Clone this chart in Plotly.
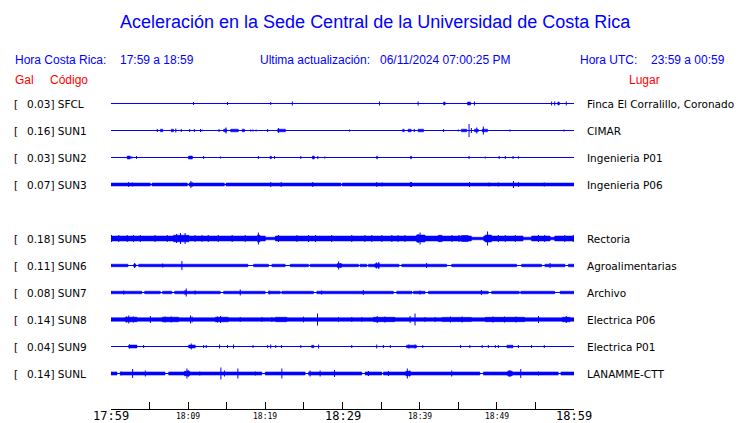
import plotly.graph_objects as go

# ---------------- data ----------------
CODES = ["SFCL", "SUN1", "SUN2", "SUN3", "SUN5", "SUN6", "SUN7", "SUN8", "SUN9", "SUNL"]
GAL = [0.03, 0.16, 0.03, 0.07, 0.18, 0.11, 0.08, 0.14, 0.04, 0.14]
LUGAR = ["Finca El Corralillo, Coronado", "CIMAR", "Ingenieria P01", "Ingenieria P06",
         "Rectoria", "Agroalimentarias", "Archivo", "Electrica P06", "Electrica P01", "LANAMME-CTT"]
SLOT = [0, 1, 2, 3, 5, 6, 7, 8, 9, 10]          # row slot (SUN4 absent)
BASE_AMP = [0.5, 0.5, 0.5, 1.5, 2.5, 1.3, 1.3, 1.8, 0.5, 1.6]   # background noise half-amplitude

# minutes after 17:59 ; time axis ticks
TICK_MIN = [0, 5, 10, 15, 20, 25, 30, 35, 40, 45, 50, 55, 60]
TICK_LABELS = ["17:59", "", "18:09", "", "18:19", "", "18:29", "", "18:39", "", "18:49", "", "18:59"]
MAJOR_LABELS = ["17:59", "18:29", "18:59"]

# quiet stretches (t0, t1, half-amp), bursts (t0, t1, half-amp), spikes (t, half-amp)
quiet_SFCL = []
bursts_SFCL = [(43.1, 43.3, 1.5), (46.2, 46.6, 1.5), (57.9, 58.1, 1.5)]
spikes_SFCL = [(10.7, 1.5), (15.1, 1.5), (20.7, 1.5), (23.5, 2), (34.8, 2), (39.8, 2), (47.1, 2),
               (57.1, 2), (57.5, 2), (59.0, 2)]

quiet_SUN1 = []
bursts_SUN1 = [(6.4, 6.7, 1.3), (7.8, 8.1, 1.3), (14.6, 15.0, 1.3), (15.5, 16.5, 1.3), (17.0, 17.3, 1.3),
               (21.6, 22.6, 1.3), (37.8, 38.0, 1.2), (38.5, 38.9, 1.3), (39.8, 40.5, 1.3),
               (45.4, 46.1, 1.3), (47.1, 47.6, 1.3), (48.1, 48.8, 1.3)]
spikes_SUN1 = [(6.0, 1.5), (8.4, 2), (9.1, 1.5), (10.2, 1.5), (10.8, 1.5), (11.6, 1.5), (11.8, 1),
               (14.0, 1.5), (14.9, 3), (18.1, 1), (18.4, 1), (18.8, 1), (20.3, 1.5), (21.7, 2.5),
               (30.9, 1), (39.3, 1.5), (43.1, 1.5), (45.0, 1), (46.4, 6.5), (46.7, 2.5), (47.4, 3),
               (48.25, 4), (51.7, 1), (58.7, 1)]

quiet_SUN2 = []
bursts_SUN2 = [(2.1, 2.5, 1.5), (10.05, 10.55, 1.5), (20.6, 20.8, 1.2), (26.1, 26.35, 1.5),
               (34.4, 34.55, 1.3), (38.8, 38.95, 1.3)]
spikes_SUN2 = [(2.7, 1.2), (3.3, 1.5), (12.0, 1.5), (14.2, 1), (19.1, 1.5), (21.2, 1.5), (24.6, 1.5),
               (26.8, 1.5), (27.7, 1), (46.4, 1.5), (48.5, 1), (50.3, 1.5), (51.1, 1.5), (52.1, 1.5),
               (52.8, 1.2)]

quiet_SUN3 = [(5.1, 5.3, 0.5), (9.9, 10.1, 0.5), (14.7, 14.9, 0.5), (29.8, 29.95, 0.5)]
bursts_SUN3 = []
spikes_SUN3 = [(2.3, 2.5), (2.8, 2), (10.35, 3.5), (10.5, 2.5), (20.7, 2.5), (22.05, 2.5), (26.15, 2.5),
               (34.45, 2.5), (35.15, 2), (38.8, 2.5), (38.95, 2.5), (46.45, 2.5), (49.0, 2), (50.2, 2),
               (52.15, 3.5), (52.8, 2.5), (56.15, 2)]

quiet_SUN5 = [(20.0, 21.3, 1.3), (46.7, 48.3, 1.3), (53.4, 54.5, 1.3), (56.9, 57.5, 1.3)]
bursts_SUN5 = [(8.1, 10.1, 3.3), (19.0, 19.3, 3.5), (39.6, 40.7, 3.5), (42.4, 42.9, 3.2), (45.4, 46.3, 3),
               (48.5, 49.3, 3.5)]
spikes_SUN5 = [(0.05, 3.5), (9.0, 5.5), (9.6, 5.5), (8.5, 4.5), (19.1, 6), (40.05, 6), (39.8, 4.5),
               (48.8, 7), (1.0, 3.5), (2.1, 3.5),
               (2.9, 3.5), (3.8, 3.5), (5.7, 3.5), (7.3, 3.5), (10.9, 3.5), (11.8, 3.5), (12.6, 3.5),
               (13.9, 3.5), (15.7, 3.5), (17.4, 3.5), (21.7, 3.5), (24.1, 3.5), (25.6, 3.5), (26.5, 3.5),
               (28.6, 3.5), (31.2, 3.5), (32.9, 3.5), (33.8, 3.5), (35.1, 3.5), (36.4, 3.5), (37.2, 3.5),
               (38.1, 3.5), (44.2, 3.5), (45.1, 3.5), (50.2, 3.5), (51.1, 3.5), (52.4, 3.5), (55.4, 3.5),
               (56.2, 3.5), (58.8, 3.5), (59.9, 3.5)]

quiet_SUN6 = [(2.2, 2.93, 0.5), (3.24, 3.58, 0.5), (17.74, 18.47, 0.5), (20.41, 20.85, 0.5),
              (22.57, 23.22, 0.5), (25.59, 25.81, 0.5), (32.07, 32.28, 0.5), (33.15, 33.36, 0.5),
              (37.33, 37.68, 0.5), (43.5, 44.15, 0.5), (52.57, 53.21, 0.5), (55.8, 56.23, 0.5),
              (58.83, 59.26, 0.5)]
bursts_SUN6 = [(29.3, 29.9, 1.8), (34.2, 34.8, 1.8)]
spikes_SUN6 = [(3.06, 2.5), (6.7, 2), (9.19, 4.5), (29.5, 4), (29.7, 2.5), (34.4, 3), (34.7, 3.5),
               (40.9, 2.5), (56.9, 2.5)]

quiet_SUN7 = [(4.0, 4.36, 0.5), (6.39, 6.69, 0.5), (7.9, 8.24, 0.5), (14.16, 14.59, 0.5), (19.98, 20.41, 0.5),
              (21.93, 22.14, 0.5), (26.24, 26.67, 0.5), (36.6, 37.03, 0.5), (39.0, 39.2, 0.5),
              (40.7, 41.13, 0.5), (48.9, 49.33, 0.5), (52.9, 53.1, 0.5), (57.5, 58.2, 0.5)]
bursts_SUN7 = []
spikes_SUN7 = [(1.64, 2), (9.75, 4), (9.6, 2.5), (10.9, 2), (16.75, 3), (20.5, 2), (27.3, 2), (32.7, 2.5),
               (40.05, 2), (48.0, 2.5)]

quiet_SUN8 = []
bursts_SUN8 = [(1.86, 3.37, 2.3), (6.6, 8.76, 2.3), (13.5, 15.2, 2.3), (21.3, 22.8, 2.2), (34.0, 36.8, 2.2),
               (42.9, 46.7, 2.1), (48.5, 53.6, 2.2), (58.5, 59.5, 2.3)]
spikes_SUN8 = [(2.3, 4), (2.0, 3), (2.9, 3), (5.1, 3.5), (7.0, 3), (7.8, 3), (10.3, 4), (10.5, 3), (14.2, 3.5),
               (13.8, 3), (16.75, 2.5), (19.55, 2.5),
               (20.85, 2.5), (24.95, 2.8), (26.76, 6), (29.48, 2.5), (31.2, 2.5), (32.5, 2.5), (34.5, 3.5),
               (35.5, 3), (38.76, 3.5), (39.4, 6), (40.7, 2.5), (42.0, 2.5), (44.0, 3), (45.5, 3),
               (49.5, 3), (51.0, 3), (52.5, 3), (55.4, 3.5), (59.0, 3.5)]

quiet_SUN9 = []
bursts_SUN9 = [(2.29, 3.37, 1.5), (10.06, 10.92, 1.5), (38.3, 39.6, 1.3), (51.3, 52.1, 1.3), (26.0, 26.3, 1.2)]
spikes_SUN9 = [(2.4, 2), (4.23, 1.5), (10.4, 3), (12.0, 1.5), (12.34, 1.5), (14.07, 2), (15.1, 1.5),
               (15.88, 2), (18.4, 1.5), (20.3, 1.5), (20.7, 2), (21.35, 1.5), (22.1, 1.5), (24.6, 1.5),
               (26.9, 2), (31.2, 1.5), (34.44, 2), (35.3, 1.5), (36.2, 1.5), (38.6, 2), (39.4, 2),
               (40.4, 1.5), (45.3, 1.5), (46.5, 1.5), (48.1, 1.5), (48.9, 1.5), (49.8, 1.5), (50.2, 1.5),
               (52.8, 1.5), (54.5, 1.5), (56.15, 1.5)]

quiet_SUNL = [(0.78, 1.2, 0.5), (7.0, 7.47, 0.5), (19.55, 19.98, 0.5), (25.16, 25.6, 0.5), (32.5, 32.93, 0.5),
              (35.1, 35.3, 0.5), (47.8, 48.25, 0.5), (57.96, 58.3, 0.5)]
bursts_SUNL = [(9.5, 10.2, 2.2), (38.2, 38.8, 2.2), (51.4, 52.0, 2.2)]
spikes_SUNL = [(1.3, 2), (2.8, 4.5), (4.45, 3), (9.84, 5), (10.0, 3.5), (11.5, 2), (14.24, 6), (14.7, 3),
               (16.44, 5), (18.7, 2), (22.14, 5), (25.8, 3), (27.1, 3), (28.96, 3.5), (33.36, 2.5),
               (35.95, 2.5), (38.4, 5), (38.7, 3), (44.15, 3), (51.6, 3.5), (51.8, 3), (53.1, 4.5), (55.4, 2)]

QUIET = [quiet_SFCL, quiet_SUN1, quiet_SUN2, quiet_SUN3, quiet_SUN5, quiet_SUN6, quiet_SUN7, quiet_SUN8,
         quiet_SUN9, quiet_SUNL]
BURSTS = [bursts_SFCL, bursts_SUN1, bursts_SUN2, bursts_SUN3, bursts_SUN5, bursts_SUN6, bursts_SUN7,
          bursts_SUN8, bursts_SUN9, bursts_SUNL]
SPIKES = [spikes_SFCL, spikes_SUN1, spikes_SUN2, spikes_SUN3, spikes_SUN5, spikes_SUN6, spikes_SUN7,
          spikes_SUN8, spikes_SUN9, spikes_SUNL]

# ---------------- layout geometry ----------------
W, H = 740, 423
L, R, T, B = 111, 166, 90, 14
PW, PH = W - L - R, H - T - B
ROW0_PX, ROW_PX = 103.5, 27
AMP_SCALE = 1.0 / ROW_PX
BLUE = "#0000ff"
RED = "#ff0000"
T0, T1 = 0, 60
PAD = 2  # annotation inner padding in px


def px2x(px):
    return (px - L) / PW


def py2y(py):
    return (H - B - py) / PH


y_top = (T - ROW0_PX) / ROW_PX
y_bot = (H - B - ROW0_PX) / ROW_PX

fig = go.Figure()

for i, code in enumerate(CODES):
    yc = SLOT[i]
    base = BASE_AMP[i]
    quiet = sorted(QUIET[i])
    rects = []
    cur = T0
    for (q0, q1, qa) in quiet:
        if q0 > cur:
            rects.append((cur, q0, base))
        rects.append((q0, q1, qa))
        cur = q1
    if cur < T1:
        rects.append((cur, T1, base))
    rects += BURSTS[i]
    rx, ry = [], []
    for (a0, a1, amp) in rects:
        if amp <= 0.5:
            continue
        a = amp * AMP_SCALE
        rx += [a0, a1, a1, a0, a0, None]
        ry += [yc - a, yc - a, yc + a, yc + a, yc - a, None]
    if rx:
        fig.add_trace(go.Scatter(x=rx, y=ry, mode="lines", fill="toself", fillcolor=BLUE,
                                 line=dict(color=BLUE, width=0.5), hoverinfo="skip", showlegend=False))
    fig.add_trace(go.Scatter(x=[T0, T1], y=[yc, yc], mode="lines", line=dict(color=BLUE, width=1),
                             hoverinfo="skip", showlegend=False))
    sx, sy = [], []
    for (t, amp) in SPIKES[i]:
        a = amp * AMP_SCALE
        sx += [t, t, None]
        sy += [yc - a, yc + a, None]
    fig.add_trace(go.Scatter(x=sx, y=sy, mode="lines", line=dict(color=BLUE, width=1),
                             hoverinfo="skip", showlegend=False))

annotations = []


def ann(text, xpx, ypx, size=11, color="black", anchor="left", family="DejaVu Sans"):
    shift = -PAD if anchor == "left" else (PAD if anchor == "right" else 0)
    annotations.append(dict(text=text, x=px2x(xpx + shift), y=py2y(ypx), xref="paper", yref="paper",
                            xanchor=anchor, yanchor="middle", showarrow=False,
                            font=dict(family=family, size=size, color=color)))


SANS = "Liberation Sans"
ann("Aceleración en la Sede Central de la Universidad de Costa Rica", 375, 22, 18, BLUE, "center", SANS)
ann("Hora Costa Rica:", 15, 60, 12, BLUE, "left", SANS)
ann("17:59 a 18:59", 120, 60, 12, BLUE, "left", SANS)
ann("Ultima actualización:", 260, 60, 12, BLUE, "left", SANS)
ann("06/11/2024 07:00:25 PM", 380, 60, 12, BLUE, "left", SANS)
ann("Hora UTC:", 580, 60, 12, BLUE, "left", SANS)
ann("23:59 a 00:59", 725, 60, 12, BLUE, "right", SANS)
ann("Gal", 15, 80, 12, RED, "left", SANS)
ann("Código", 50, 80, 12, RED, "left", SANS)
ann("Lugar", 660, 80, 12, RED, "right", SANS)

for i, code in enumerate(CODES):
    ypx = ROW0_PX + ROW_PX * SLOT[i]
    ann("[", 14, ypx, 10.5)
    ann(f"{GAL[i]:.2f}] {code}", 27, ypx, 10.5)
    ann(LUGAR[i], 587, ypx, 10.5)

for t, lab in zip(TICK_MIN, TICK_LABELS):
    if not lab:
        continue
    big = lab in MAJOR_LABELS
    annotations.append(dict(text=lab, x=t, y=py2y(416), xref="x", yref="paper", xanchor="center",
                            yanchor="middle", showarrow=False,
                            font=dict(family="DejaVu Sans Mono", size=12 if big else 8, color="black")))

fig.update_layout(
    width=W, height=H,
    margin=dict(l=L, r=R, t=T, b=B, pad=0),
    paper_bgcolor="white", plot_bgcolor="white",
    showlegend=False,
    annotations=annotations,
    xaxis=dict(range=[T0, T1], showgrid=False, zeroline=False, showline=True, linecolor="black",
               linewidth=1, ticks="inside", ticklen=7, tickcolor="black", tickwidth=1,
               tickvals=TICK_MIN, showticklabels=False, fixedrange=True),
    yaxis=dict(range=[y_bot, y_top], visible=False, fixedrange=True),
)

fig.write_html("out.html", config={"displayModeBar": False},
               post_script="document.body.style.margin='0';document.body.style.overflow='hidden';")
